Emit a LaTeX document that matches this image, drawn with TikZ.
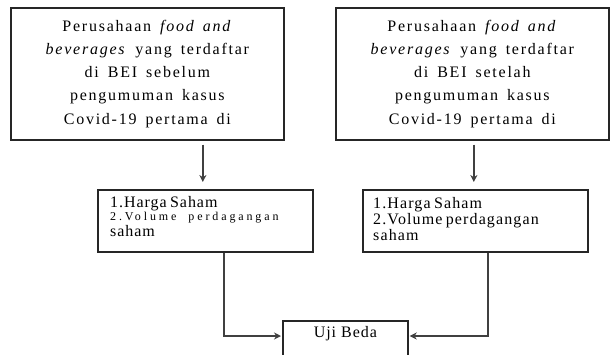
\documentclass[tikz,border=0pt]{standalone}
\usepackage{fontspec}
\setmainfont{Liberation Serif}
\usetikzlibrary{arrows.meta}
\newcommand{\myBigFont}{\fontsize{16}{23.2}\selectfont\addfontfeatures{LetterSpace=11}\spaceskip=9pt plus 2pt\relax}
\begin{document}
\begin{tikzpicture}[x=1pt,y=-1pt,
  box/.style={draw=black!85,line width=1.7pt,fill=white},
  arr/.style={-{Stealth[length=7pt,width=7pt]},line width=1.6pt,draw=black!75},
  bigtxt/.style={font=\myBigFont,align=center},
  midtxt/.style={align=left,text width=200pt,inner sep=0pt}]
\useasboundingbox (0,0) rectangle (610,354);
\node[box,minimum width=273pt,minimum height=132pt,anchor=north west,bigtxt] (a1) at (10,7)
  {Perusahaan \textit{food and}\\ \textit{beverages} yang terdaftar\\ di BEI sebelum\\ pengumuman kasus\\ Covid-19 pertama di};
\node[box,minimum width=273pt,minimum height=132pt,anchor=north west,bigtxt] (a2) at (335,7)
  {Perusahaan \textit{food and}\\ \textit{beverages} yang terdaftar\\ di BEI setelah\\ pengumuman kasus\\ Covid-19 pertama di};
\node[box,minimum width=215pt,minimum height=62pt,anchor=north west] (b1) at (97,189) {};
\node[midtxt,anchor=north west] (b1t) at (110,196)
  {{\fontsize{16}{17}\selectfont\addfontfeatures{LetterSpace=6}1.Harga Saham}\\[1pt]
   {\fontsize{12}{16}\selectfont\addfontfeatures{LetterSpace=24}2.Volume\hspace{12pt}perdagangan}\\[2pt]
   {\fontsize{16}{15}\selectfont\addfontfeatures{LetterSpace=6}saham}};
\node[box,minimum width=225pt,minimum height=62pt,anchor=north west] (b2) at (362,189) {};
\node[midtxt,anchor=north west] (b2t) at (373,197)
  {\fontsize{16}{16.5}\selectfont\addfontfeatures{LetterSpace=7}1.Harga Saham\\ 2.Volume perdagangan\\ saham};
\node[box,minimum width=125pt,minimum height=44pt,anchor=north west] (uji) at (282,320) {};
\node[font=\fontsize{16}{16}\selectfont\addfontfeatures{LetterSpace=6}] (ujit) at ([yshift=-14pt]uji.north) {Uji Beda};
\draw[arr] ([xshift=55.5pt,yshift=-4pt]a1.south) -- ([xshift=-2.5pt,yshift=7pt]b1.north);
\draw[arr] ([xshift=1.5pt,yshift=-4pt]a2.south) -- ([xshift=-1.5pt,yshift=7pt]b2.north);
\draw[arr] ([xshift=18.5pt]b1.south) |- ([yshift=-16pt,xshift=-1pt]uji.north west);
\draw[arr] ([xshift=12.5pt]b2.south) |- ([yshift=-16pt,xshift=1pt]uji.north east);
\end{tikzpicture}
\end{document}
